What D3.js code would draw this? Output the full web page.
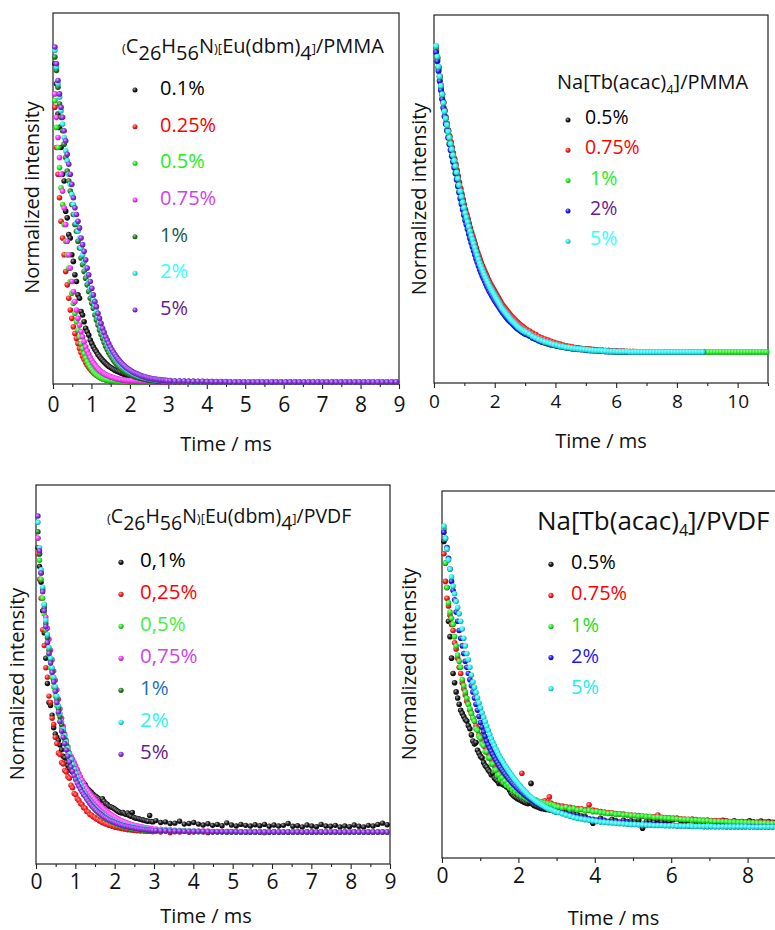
<!DOCTYPE html>
<html>
<head>
<meta charset="utf-8">
<script src="https://cdn.jsdelivr.net/npm/d3@7"></script>
<style>
  body { margin: 0; background: #fff; }
  svg { display: block; font-family: 'Open Sans', sans-serif; }
</style>
</head>
<body>
<svg id="fig" width="775" height="930"></svg>
<script>
// ---------- sampling grids (time, ms) ----------
const gridEu = d3.range(0.05, 2.99, 0.04).concat(d3.range(3.05, 9, 0.12));
const gridTbPmma = d3.range(0.07, 3, 0.04).concat(d3.range(3.05, 11, 0.1));
const gridTbPvdf = d3.range(0.05, 2.99, 0.04).concat(d3.range(3.05, 9, 0.1));

// ---------- axis ticks ----------
const ticksEu = [0, 1, 2, 3, 4, 5, 6, 7, 8, 9];
const minorEu = [0.5, 1.5, 2.5, 3.5, 4.5, 5.5, 6.5, 7.5, 8.5];
const ticksTbPmma = [0, 2, 4, 6, 8, 10];
const minorTbPmma = [1, 3, 5, 7, 9, 11];
const ticksTbPvdf = [0, 2, 4, 6, 8];
const minorTbPvdf = [1, 3, 5, 7, 9];

// ---------- legend labels ----------
const euPmmaLabels = ["0.1%", "0.25%", "0.5%", "0.75%", "1%", "2%", "5%"];
const tbPmmaLabels = ["0.5%", "0.75%", "\u00a01%", "\u00a02%", "\u00a05%"];
const euPvdfLabels = ["0,1%", "0,25%", "0,5%", "0,75%", "1%", "2%", "5%"];
const tbPvdfLabels = ["0.5%", "0.75%", "1%", "2%", "5%"];

// ---------- (C26H56N)[Eu(dbm)4] / PMMA ----------
const euPmma01 = [.95,.89,.80,.76,.70,.62,.60,.51,.49,.44,
  .43,.38,.36,.32,.30,.26,.25,.21,.20,.18,
  .16,.15,.14,.125,.115,.105,.097,.09,.082,.076,
  .07,.065,.06,.055,.051,.047,.044,.041,.038,.035,
  .033,.031,.029,.027,.025,.023,.021,.02,.018,.017,
  .016,.015,.014,.013,.012,.011,.01,.009,.008,.008,
  .007,.007,.006,.006,.005,.005,.005,.004,.004,.004,
  .003,.003,.003,.003,
  .003,.002,.002,.002,.002,.002,.001,.001,.001,.001,
  0,0,0,0,0,0,0,0,0,0, 0,0,0,0,0,0,0,0,0,0,
  0,0,0,0,0,0,0,0,0,0, 0,0,0,0,0,0,0,0,0,0];
const euPmma025 = [.82,.70,.62,.55,.48,.43,.38,.33,.29,.25,
  .215,.19,.165,.145,.13,.115,.10,.088,.077,.067,
  .058,.05,.044,.038,.033,.028,.024,.02,.017,.014,
  .012,.01,.009,.007,.006,.005,.004,.004,.003,.003,
  .003,.002,.002,.002,.002,.002,.001,.001,.001,.001,
  .001,.001,.001,0,0,0,0,0,0,0,
  0,0,0,0,0,0,0,0,0,0,
  0,0,0,0,
  0,0,0,0,0,0,0,0,0,0, 0,0,0,0,0,0,0,0,0,0,
  0,0,0,0,0,0,0,0,0,0, 0,0,0,0,0,0,0,0,0,0,
  0,0,0,0,0,0,0,0,0,0];
const euPmma05 = [.84,.76,.70,.64,.58,.53,.47,.42,.38,.34,
  .30,.265,.235,.205,.18,.155,.135,.115,.10,.085,
  .072,.061,.052,.044,.037,.031,.026,.022,.018,.015,
  .012,.01,.008,.007,.006,.005,.004,.004,.003,.003,
  .002,.002,.002,.002,.001,.001,.001,.001,.001,.001,
  0,0,0,0,0,0,0,0,0,0,
  0,0,0,0,0,0,0,0,0,0,
  0,0,0,0,
  0,0,0,0,0,0,0,0,0,0, 0,0,0,0,0,0,0,0,0,0,
  0,0,0,0,0,0,0,0,0,0, 0,0,0,0,0,0,0,0,0,0,
  0,0,0,0,0,0,0,0,0,0];
const euPmma075 = [.86,.79,.73,.67,.62,.57,.52,.47,.42,.38,
  .34,.30,.27,.24,.215,.19,.17,.15,.135,.12,
  .105,.093,.083,.073,.065,.057,.051,.045,.04,.035,
  .031,.028,.025,.022,.02,.018,.016,.014,.013,.011,
  .01,.009,.008,.007,.007,.006,.005,.005,.004,.004,
  .004,.003,.003,.003,.003,.002,.002,.002,.002,.002,
  .002,.001,.001,.001,.001,.001,.001,.001,.001,.001,
  .001,.001,0,0,
  0,0,0,0,0,0,0,0,0,0, 0,0,0,0,0,0,0,0,0,0,
  0,0,0,0,0,0,0,0,0,0, 0,0,0,0,0,0,0,0,0,0,
  0,0,0,0,0,0,0,0,0,0];
const euPmma1 = [.97,.93,.88,.83,.79,.75,.71,.67,.63,.60,
  .57,.53,.50,.47,.45,.42,.40,.37,.35,.33,
  .31,.29,.27,.25,.235,.22,.20,.185,.17,.155,
  .142,.13,.118,.107,.097,.088,.08,.073,.066,.06,
  .054,.049,.044,.04,.036,.033,.03,.027,.024,.022,
  .02,.018,.016,.014,.013,.012,.011,.01,.009,.008,
  .007,.006,.006,.005,.005,.004,.004,.003,.003,.003,
  .002,.002,.002,.002,
  .002,.001,.001,.001,.001,0,0,0,0,0, 0,0,0,0,0,0,0,0,0,0,
  0,0,0,0,0,0,0,0,0,0, 0,0,0,0,0,0,0,0,0,0,
  0,0,0,0,0,0,0,0,0,0];
const euPmma2 = [.99,.94,.89,.85,.81,.77,.73,.69,.66,.62,
  .59,.56,.53,.50,.475,.45,.43,.40,.38,.36,
  .34,.32,.30,.28,.26,.245,.23,.21,.195,.18,
  .165,.152,.14,.128,.117,.107,.098,.09,.082,.075,
  .069,.063,.057,.052,.048,.044,.04,.036,.033,.03,
  .028,.025,.023,.021,.019,.017,.016,.014,.013,.012,
  .011,.01,.009,.008,.007,.007,.006,.006,.005,.005,
  .004,.004,.004,.003,
  .003,.002,.002,.002,.001,.001,.001,.001,0,0, 0,0,0,0,0,0,0,0,0,0,
  0,0,0,0,0,0,0,0,0,0, 0,0,0,0,0,0,0,0,0,0,
  0,0,0,0,0,0,0,0,0,0];
const euPmma5 = [1.0,.95,.90,.86,.82,.79,.75,.72,.68,.65,
  .62,.59,.55,.52,.50,.48,.46,.43,.41,.39,
  .365,.34,.32,.30,.28,.26,.24,.225,.205,.19,
  .175,.16,.148,.135,.125,.115,.105,.097,.089,.082,
  .075,.069,.063,.058,.053,.049,.045,.041,.038,.035,
  .032,.029,.027,.025,.023,.021,.019,.017,.016,.015,
  .013,.012,.011,.01,.009,.009,.008,.007,.007,.006,
  .006,.005,.005,.004,
  .004,.003,.003,.003,.002,.002,.002,.002,.001,.001,
  .001,.001,.001,0,0,0,0,0,0,0, 0,0,0,0,0,0,0,0,0,0,
  0,0,0,0,0,0,0,0,0,0, 0,0,0,0,0,0,0,0,0,0];

// ---------- Na[Tb(acac)4] / PMMA ----------
const tbPmma05 = [.99,.962,.93,.90,.87,.842,.815,.789,.765,.744,
  .722,.703,.684,.666,.647,.629,.611,.591,.571,.55,
  .53,.512,.494,.477,.46,.446,.431,.416,.401,.387,
  .373,.36,.347,.334,.321,.309,.297,.287,.277,.267,
  .258,.249,.24,.231,.222,.215,.208,.201,.194,.187,
  .18,.173,.166,.159,.152,.146,.141,.136,.131,.126,
  .121,.116,.111,.107,.103,.099,.095,.091,.087,.084,
  .081,.078,.075,.072,
  .068,.063,.056,.051,.046,.042,.038,.034,.031,.028,
  .025,.022,.02,.018,.016,.014,.013,.012,.011,.01,
  .009,.008,.007,.006,.005,.005,.004,.004,.003,.003,
  .002,.002,.002,.001,.001,.001,0,0,0,0,
  0,0,0,0,0,0,0,0,0,0, 0,0,0,0,0,0,0,0,0];
const tbPmma075 = [.99,.96,.93,.90,.87,.843,.816,.79,.767,.746,
  .725,.706,.687,.668,.65,.632,.614,.595,.575,.555,
  .535,.517,.499,.482,.466,.451,.436,.421,.406,.392,
  .379,.366,.353,.34,.327,.315,.303,.292,.282,.272,
  .263,.254,.245,.236,.227,.22,.213,.206,.199,.192,
  .185,.178,.171,.164,.157,.151,.146,.141,.136,.131,
  .126,.121,.116,.112,.108,.104,.10,.096,.092,.089,
  .086,.083,.08,.077,
  .073,.068,.061,.056,.05,.046,.042,.038,.034,.031,
  .028,.025,.022,.02,.018,.016,.014,.012,.011,.01,
  .009,.008,.007,.006,.005,.005,.004,.004,.003,.003,
  .002,.002,.002,.001,.001,.001,.001,0,0,0,
  0,0,0,0,0,0,0,0,0,0, 0,0,0,0,0,0,0,0,0];
const tbPmma1 = [.985,.955,.922,.89,.86,.83,.80,.773,.748,.726,
  .704,.683,.663,.644,.625,.606,.587,.567,.546,.526,
  .506,.488,.47,.452,.436,.421,.406,.391,.376,.362,
  .349,.336,.323,.31,.298,.286,.274,.264,.254,.245,
  .236,.227,.218,.21,.202,.195,.188,.181,.174,.167,
  .161,.155,.149,.143,.137,.131,.126,.121,.116,.111,
  .106,.102,.098,.094,.09,.086,.082,.079,.076,.073,
  .07,.067,.064,.062,
  .059,.054,.048,.043,.039,.035,.031,.028,.025,.023,
  .02,.018,.016,.015,.013,.012,.011,.01,.009,.008,
  .007,.006,.005,.004,.004,.003,.003,.002,.002,.002,
  .001,.001,.001,.001,0,0,0,0,0,0,
  0,0,0,0,0,0,0,0,0,0, 0,0,0,0,0,0,0,0,0,0,
  0,0,0,0,0,0,0,0,0,0, 0,0,0,0,0,0,0,0,0,0];
const tbPmma2 = [.98,.95,.918,.885,.855,.826,.797,.77,.745,.723,
  .70,.679,.659,.64,.621,.602,.583,.563,.542,.521,
  .501,.483,.465,.447,.43,.416,.401,.386,.371,.357,
  .344,.331,.318,.305,.293,.281,.27,.26,.25,.241,
  .232,.223,.214,.206,.198,.191,.184,.177,.17,.164,
  .158,.152,.146,.14,.134,.128,.123,.118,.113,.108,
  .104,.10,.096,.092,.088,.084,.08,.077,.074,.071,
  .068,.065,.063,.06,
  .057,.052,.046,.042,.037,.033,.03,.027,.024,.022,
  .02,.018,.016,.014,.013,.011,.01,.009,.008,.007,
  .006,.005,.005,.004,.003,.003,.002,.002,.002,.001,
  .001,.001,.001,0,0,0,0,0,0,0,
  0,0,0,0,0,0,0,0,0,0, 0,0,0,0,0,0,0,0,0];
const tbPmma5 = [1.0,.965,.932,.90,.87,.842,.814,.787,.763,.742,
  .72,.70,.68,.662,.643,.625,.607,.587,.566,.545,
  .525,.507,.489,.471,.454,.44,.425,.41,.395,.38,
  .367,.354,.341,.328,.315,.302,.29,.28,.27,.26,
  .251,.242,.233,.224,.215,.208,.201,.194,.187,.18,
  .173,.166,.159,.152,.145,.139,.134,.129,.124,.119,
  .114,.109,.104,.10,.096,.092,.088,.084,.08,.077,
  .074,.071,.069,.066,
  .063,.058,.051,.046,.041,.037,.033,.03,.027,.024,
  .022,.019,.017,.015,.014,.012,.011,.01,.009,.008,
  .007,.006,.005,.004,.004,.003,.003,.002,.002,.002,
  .001,.001,.001,.001,0,0,0,0,0,0,
  0,0,0,0,0,0,0,0,0,0, 0,0,0,0,0,0,0,0,0];

// ---------- (C26H56N)[Eu(dbm)4] / PVDF ----------
const euPvdf01 = [.90,.84,.79,.70,.63,.55,.47,.41,.40,.37,
  .33,.31,.30,.29,.275,.26,.24,.235,.22,.21,
  .20,.195,.19,.185,.178,.17,.165,.16,.158,.155,
  .15,.14,.135,.13,.125,.12,.115,.112,.108,.104,
  .10,.105,.097,.09,.088,.082,.08,.078,.075,.072,
  .068,.065,.062,.06,.062,.058,.055,.06,.052,.05,
  .062,.046,.044,.043,.042,.04,.039,.038,.036,.035,
  .034,.052,.033,.032,
  .036,.03,.032,.027,.028,.034,.025,.027,.03,.025,
  .022,.026,.021,.024,.02,.029,.022,.019,.024,.021,
  .019,.023,.02,.024,.018,.022,.019,.021,.027,.018,
  .02,.016,.022,.019,.017,.024,.019,.018,.021,.016,
  .019,.017,.022,.018,.016,.021,.019,.024,.028,.023];
const euPvdf025 = [.88,.80,.74,.64,.59,.52,.49,.43,.41,.36,
  .34,.30,.28,.25,.245,.22,.215,.195,.19,.175,
  .17,.148,.14,.122,.118,.105,.10,.09,.087,.077,
  .075,.065,.063,.055,.054,.048,.047,.041,.04,.035,
  .034,.029,.029,.025,.025,.021,.021,.018,.018,.015,
  .016,.013,.014,.011,.012,.009,.01,.007,.009,.006,
  .008,.005,.007,.004,.006,.003,.005,.003,.004,.002,
  .004,.002,.003,.001,
  .002,0,.003,-.002,.001,0,.002,-.001,0,.001,
  0,-.002,.001,0,.002,-.001,0,.001,0,-.001,
  0,.001,0,-.002,0,.001,0,0,-.001,0,
  .001,0,0,-.001,0,.001,0,0,0,-.001,
  0,0,.001,0,0,0,-.001,0,0,0];
const euPvdf05 = [.93,.86,.80,.74,.69,.64,.60,.56,.52,.49,
  .46,.43,.40,.375,.35,.33,.31,.29,.27,.25,
  .235,.22,.205,.19,.178,.165,.154,.143,.133,.124,
  .115,.107,.099,.092,.085,.079,.073,.068,.063,.058,
  .054,.05,.046,.043,.04,.037,.034,.031,.029,.027,
  .025,.023,.021,.019,.018,.016,.015,.014,.013,.012,
  .011,.01,.009,.009,.008,.007,.007,.006,.006,.005,
  .005,.005,.004,.004,
  .004,.003,.003,.003,.002,.002,.002,.002,.001,.001,
  .001,.001,.001,.001,0,0,0,0,0,0,
  0,0,0,0,0,0,0,0,0,0, 0,0,0,0,0,0,0,0,0,0,
  0,0,0,0,0,0,0,0,0,0];
const euPvdf075 = [.93,.88,.82,.77,.72,.68,.645,.61,.575,.545,
  .51,.48,.45,.42,.39,.36,.335,.31,.29,.27,
  .25,.24,.23,.22,.21,.198,.186,.175,.165,.155,
  .145,.137,.13,.123,.116,.11,.104,.098,.092,.087,
  .082,.077,.072,.068,.064,.06,.056,.053,.05,.047,
  .044,.041,.038,.036,.034,.032,.03,.028,.026,.024,
  .023,.021,.02,.019,.018,.017,.016,.015,.014,.013,
  .012,.012,.011,.01,
  .01,.009,.008,.007,.006,.005,.005,.004,.004,.003,
  .003,.003,.002,.002,.002,.002,.001,.001,.001,.001,
  .001,.001,0,0,0,0,0,0,0,0,
  0,0,0,0,0,0,0,0,0,0, 0,0,0,0,0,0,0,0,0,0];
const euPvdf1 = [.95,.88,.82,.765,.71,.66,.615,.575,.54,.51,
  .48,.45,.42,.39,.365,.34,.318,.297,.277,.258,
  .24,.223,.207,.193,.18,.167,.155,.144,.134,.125,
  .116,.108,.1,.093,.087,.081,.075,.07,.065,.061,
  .057,.053,.049,.046,.043,.04,.037,.035,.033,.031,
  .029,.027,.025,.023,.021,.02,.019,.018,.017,.016,
  .015,.014,.013,.012,.011,.01,.009,.009,.008,.008,
  .007,.007,.006,.006,
  .005,.005,.004,.004,.003,.003,.003,.002,.002,.002,
  .002,.001,.001,.001,.001,0,0,0,0,0,
  0,0,0,0,0,0,0,0,0,0, 0,0,0,0,0,0,0,0,0,0,
  0,0,0,0,0,0,0,0,0,0];
const euPvdf2 = [.98,.90,.83,.775,.72,.67,.625,.585,.55,.52,
  .49,.46,.43,.40,.375,.35,.325,.305,.285,.265,
  .247,.23,.214,.199,.185,.172,.16,.149,.139,.129,
  .12,.112,.104,.097,.091,.085,.079,.074,.069,.065,
  .061,.057,.053,.049,.046,.043,.04,.037,.035,.033,
  .031,.029,.027,.025,.023,.022,.02,.019,.018,.017,
  .016,.015,.014,.013,.012,.011,.01,.01,.009,.009,
  .008,.008,.007,.007,
  .006,.006,.005,.005,.004,.004,.003,.003,.003,.002,
  .002,.002,.002,.001,.001,.001,.001,.001,0,0,
  0,0,0,0,0,0,0,0,0,0, 0,0,0,0,0,0,0,0,0,0,
  0,0,0,0,0,0,0,0,0,0];
const euPvdf5 = [1.0,.89,.82,.76,.70,.65,.60,.565,.535,.505,
  .475,.445,.41,.38,.35,.32,.30,.28,.26,.24,
  .222,.206,.192,.178,.166,.155,.145,.136,.127,.119,
  .113,.105,.098,.091,.085,.079,.074,.069,.064,.06,
  .056,.052,.048,.045,.042,.039,.036,.034,.032,.03,
  .028,.026,.024,.022,.021,.019,.018,.017,.016,.015,
  .014,.013,.012,.011,.01,.009,.009,.008,.008,.007,
  .007,.006,.006,.005,
  .005,.004,.004,.003,.003,.003,.002,.002,.002,.002,
  .002,.001,.001,.001,.001,.001,.001,.001,0,0,
  0,0,0,0,0,0,0,0,0,0, 0,0,0,0,0,0,0,0,0,0,
  0,0,0,0,0,0,0,0,0,0];

// ---------- Na[Tb(acac)4] / PVDF ----------
const tbPvdf05 = [.93,.86,.78,.67,.62,.55,.50,.47,.44,.42,
  .40,.38,.37,.36,.35,.345,.33,.32,.30,.28,
  .27,.275,.25,.24,.23,.225,.21,.20,.195,.186,
  .18,.17,.175,.16,.155,.15,.142,.145,.14,.138,
  .135,.13,.137,.12,.11,.105,.10,.096,.093,.09,
  .088,.085,.082,.08,.078,.076,.08,.142,.074,.07,
  .068,.066,.064,.062,.06,.065,.058,.057,.061,.056,
  .055,.054,.058,.055,
  .052,.05,.047,.045,.042,.04,.036,.033,.025,.012,
  .02,.028,.022,.018,.025,.02,.015,.022,.018,.02,
  .016,.022,-.004,.018,.02,.015,.022,.017,.02,.018,
  .024,.028,.02,.018,.022,.025,.018,.02,.016,.022,
  .018,.02,.015,.022,.019,.017,.02,.016,.018,.015,
  .02,.017,.015,.019,.016,.018,.015,.017,.014,.016];
const tbPvdf075 = [.89,.80,.745,.72,.69,.66,.64,.60,.58,.55,
  .52,.50,.47,.45,.43,.41,.40,.38,.37,.355,
  .345,.33,.32,.30,.295,.28,.275,.26,.25,.24,
  .23,.22,.21,.20,.19,.18,.175,.165,.16,.155,
  .15,.145,.14,.135,.13,.125,.12,.118,.114,.11,
  .108,.175,.10,.098,.095,.092,.09,.088,.086,.084,
  .088,.082,.08,.078,.083,.076,.085,.075,.08,.098,
  .078,.074,.07,.072,
  .07,.068,.066,.064,.062,.06,.059,.057,.072,.055,
  .053,.05,.049,.047,.046,.044,.043,.042,.04,.039,
  .038,.037,.036,.035,.034,.033,.039,.032,.031,.03,
  .029,.028,.027,.026,.025,.025,.024,.023,.023,.022,
  .021,.021,.02,.019,.019,.018,.018,.017,.017,.016,
  .016,.015,.015,.015,.014,.014,.013,.013,.013,.012];
const tbPvdf1 = [.97,.86,.78,.73,.70,.68,.66,.62,.59,.56,
  .54,.52,.48,.46,.44,.42,.40,.385,.37,.355,
  .345,.32,.315,.295,.29,.27,.265,.245,.245,.225,
  .225,.205,.205,.185,.185,.168,.17,.155,.16,.145,
  .15,.135,.14,.128,.132,.12,.124,.113,.118,.106,
  .11,.10,.104,.095,.099,.09,.095,.087,.09,.083,
  .087,.08,.084,.078,.081,.075,.078,.073,.076,.07,
  .073,.068,.071,.066,
  .065,.062,.064,.058,.06,.055,.057,.052,.054,.05,
  .05,.047,.046,.044,.045,.041,.042,.039,.04,.037,
  .037,.035,.036,.033,.034,.031,.032,.03,.029,.028,
  .027,.026,.025,.024,.024,.022,.022,.021,.02,.02,
  .019,.018,.018,.017,.017,.016,.016,.015,.015,.014,
  .014,.014,.013,.013,.013,.012,.012,.012,.011,.011];
const tbPvdf2 = [.96,.94,.91,.875,.84,.80,.77,.74,.70,.67,
  .64,.615,.59,.565,.54,.52,.50,.48,.46,.44,
  .42,.40,.38,.36,.34,.325,.31,.295,.28,.268,
  .257,.247,.237,.228,.219,.21,.202,.194,.187,.18,
  .173,.166,.16,.154,.148,.142,.137,.132,.127,.122,
  .117,.113,.108,.104,.10,.096,.093,.089,.086,.083,
  .08,.077,.074,.071,.069,.066,.064,.062,.06,.058,
  .056,.054,.052,.05,
  .048,.045,.042,.039,.036,.033,.031,.029,.027,.025,
  .023,.021,.02,.018,.017,.016,.015,.014,.013,.012,
  .011,.01,.009,.009,.008,.007,.007,.006,.006,.005,
  .005,.004,.004,.004,.003,.003,.003,.003,.002,.002,
  .002,.002,.002,.002,.001,.001,.001,.001,.001,.001,
  .001,.001,0,0,0,0,0,0,0,0];
const tbPvdf5 = [.98,.94,.905,.87,.84,.815,.785,.76,.735,.715,
  .695,.67,.645,.615,.59,.565,.545,.52,.495,.472,
  .455,.438,.421,.404,.388,.372,.357,.343,.329,.315,
  .301,.288,.276,.265,.254,.244,.234,.225,.217,.209,
  .20,.193,.185,.178,.171,.164,.157,.151,.145,.139,
  .133,.127,.121,.116,.111,.106,.101,.097,.093,.089,
  .085,.081,.078,.075,.072,.069,.066,.063,.06,.058,
  .056,.054,.052,.05,
  .047,.043,.039,.035,.031,.028,.026,.024,.022,.02,
  .018,.016,.015,.014,.013,.012,.011,.01,.009,.008,
  .008,.007,.007,.006,.006,.005,.005,.005,.004,.004,
  .004,.003,.003,.003,.003,.002,.002,.002,.002,.002,
  .002,.001,.001,.001,.001,.001,.001,.001,.001,.001,
  0,0,0,0,0,0,0,0,0,0];

// ---------- colours ----------
const C = {
  black: "#151515", red: "#ff1a1a", green: "#22ee22", magenta: "#ff33ff",
  dkgreen: "#1e7d1e", cyan: "#2af0f0", violet: "#8a2be2", blue: "#1a1aee"
};

const panels = [
  {
    frame: { left: 53, right: 399, top: 13, bottom: 384 }, xMax: 9, yZero: 382, yOne: 47,
    majors: ticksEu, minors: minorEu, tickFont: 21, tickOffset: 28,
    xTitle: [226, 451], yTitle: [31.7, 197.5], r: 2.8, times: gridEu,
    title: { x: 122, y: 53, n: 20, s: 20, b: 13, shift: 7,
      parts: [["(", "b"], ["C", "n"], ["26", "s"], ["H", "n"], ["56", "s"], ["N", "n"], [")", "b"], ["[", "b"],
              ["Eu(dbm)", "n"], ["4", "s"], ["]", "b"], ["/PMMA", "n"]] },
    legend: { mx: 135, my: 90, tx: 160, ty: 95, step: 36.67, size: 20, r: 2.5 },
    labels: euPmmaLabels,
    series: [
      [euPmma01, C.black, "#000000"], [euPmma025, C.red, "#ff0000"], [euPmma05, C.green, "#22ee22"],
      [euPmma075, C.magenta, "#cc44ee"], [euPmma1, C.dkgreen, "#17594a"], [euPmma2, C.cyan, "#33ffff"],
      [euPmma5, C.violet, "#6a1a8a"]
    ]
  },
  {
    frame: { left: 434, right: 768, top: 15, bottom: 383 }, xMax: 11, yZero: 352, yOne: 46,
    majors: ticksTbPmma, minors: minorTbPmma, tickFont: 19, tickOffset: 25,
    xTitle: [601, 448], yTitle: [418.3, 199], r: 3, times: gridTbPmma,
    title: { x: 557, y: 89, n: 20, s: 13, b: 20, shift: 5,
      parts: [["Na[Tb(acac)", "n"], ["4", "s"], ["]/PMMA", "n"]] },
    legend: { mx: 568, my: 120, tx: 585, ty: 124, step: 30.3, size: 19.5, r: 2.5 },
    labels: tbPmmaLabels,
    series: [
      [tbPmma05, C.black, "#000000"], [tbPmma075, C.red, "#ff0000"], [tbPmma1, C.green, "#22ee22"],
      [tbPmma2, C.blue, "#6a1a8a"], [tbPmma5, C.cyan, "#33ffff"]
    ]
  },
  {
    frame: { left: 36, right: 390, top: 485, bottom: 864 }, xMax: 9, yZero: 832, yOne: 516,
    majors: ticksEu, minors: minorEu, tickFont: 21, tickOffset: 25,
    xTitle: [206, 922.5], yTitle: [16.7, 684], r: 2.7, times: gridEu,
    title: { x: 107, y: 523, n: 19.5, s: 19.5, b: 13, shift: 7,
      parts: [["(", "b"], ["C", "n"], ["26", "s"], ["H", "n"], ["56", "s"], ["N", "n"], [")", "b"], ["[", "b"],
              ["Eu(dbm)", "n"], ["4", "s"], ["]", "b"], ["/PVDF", "n"]] },
    legend: { mx: 121, my: 562.3, tx: 140, ty: 566.7, step: 32, size: 20.5, r: 2.6 },
    labels: euPvdfLabels,
    series: [
      [euPvdf01, C.black, "#000000"], [euPvdf025, C.red, "#ff0000"], [euPvdf05, C.green, "#44ee44"],
      [euPvdf075, C.magenta, "#cc44ee"], [euPvdf1, C.dkgreen, "#1f6fb0"], [euPvdf2, C.cyan, "#33eeee"],
      [euPvdf5, C.violet, "#6a1a8a"]
    ]
  },
  {
    frame: { left: 442, right: 442 + 9 * 38.2, top: 491, bottom: 858 }, xMax: 9, yZero: 827, yOne: 520,
    majors: ticksTbPvdf, minors: minorTbPvdf, tickFont: 21, tickOffset: 25,
    xTitle: [613.5, 925], yTitle: [408.3, 664], r: 2.8, times: gridTbPvdf,
    title: { x: 537, y: 530, n: 26, s: 16, b: 26, shift: 6,
      parts: [["Na[Tb(acac)", "n"], ["4", "s"], ["]/PVDF", "n"]] },
    legend: { mx: 551, my: 564.3, tx: 571, ty: 569.3, step: 31.1, size: 20, r: 2.6 },
    labels: tbPvdfLabels,
    series: [
      [tbPvdf05, C.black, "#000000"], [tbPvdf075, C.red, "#ff0000"], [tbPvdf1, C.green, "#22dd22"],
      [tbPvdf2, C.blue, "#1a1aee"], [tbPvdf5, C.cyan, "#22eeee"]
    ]
  }
];

const svg = d3.select("#fig");
svg.append("rect").attr("width", 775).attr("height", 930).attr("fill", "#fff");
const defs = svg.append("defs");

// shaded bead fill per colour
const beadIds = new Map();
function bead(color) {
  if (!beadIds.has(color)) {
    const id = "bead" + beadIds.size;
    const g = defs.append("radialGradient").attr("id", id)
      .attr("cx", "38%").attr("cy", "35%").attr("r", "65%");
    g.append("stop").attr("offset", "0%").attr("stop-color", d3.interpolateRgb(color, "#ffffff")(0.6));
    g.append("stop").attr("offset", "55%").attr("stop-color", color);
    g.append("stop").attr("offset", "100%").attr("stop-color", d3.interpolateRgb(color, "#000000")(0.35));
    beadIds.set(color, id);
  }
  return `url(#${beadIds.get(color)})`;
}

panels.forEach(p => {
  const g = svg.append("g");
  const f = p.frame;
  const x = d3.scaleLinear().domain([0, p.xMax]).range([f.left, f.right]);
  const y = d3.scaleLinear().domain([0, 1]).range([p.yZero, p.yOne]);

  // frame
  g.append("rect").attr("x", f.left).attr("y", f.top)
    .attr("width", f.right - f.left).attr("height", f.bottom - f.top)
    .attr("fill", "none").attr("stroke", "#222").attr("stroke-width", 1.2);

  // x axis: minor then major ticks
  const minorAxis = g.append("g").attr("transform", `translate(0,${f.bottom})`)
    .call(d3.axisBottom(x).tickValues(p.minors).tickSize(3).tickFormat(""));
  const majorAxis = g.append("g").attr("transform", `translate(0,${f.bottom})`)
    .call(d3.axisBottom(x).tickValues(p.majors).tickSize(5).tickFormat(d3.format("d")));
  [minorAxis, majorAxis].forEach(a => {
    a.select(".domain").remove();
    a.selectAll("line").attr("stroke", "#222").attr("stroke-width", 1.1);
    a.attr("font-family", null).attr("font-size", null);
  });
  majorAxis.selectAll("text")
    .attr("y", p.tickOffset).attr("dy", null)
    .attr("fill", "#111").style("font-size", p.tickFont + "px")
    .style("font-family", "'Open Sans', sans-serif");

  // axis titles
  g.append("text").attr("x", p.xTitle[0]).attr("y", p.xTitle[1])
    .attr("text-anchor", "middle").attr("fill", "#111").style("font-size", "20px")
    .text("Time / ms");
  g.append("text")
    .attr("transform", `translate(${p.yTitle[0]},${p.yTitle[1]}) rotate(-90)`)
    .attr("text-anchor", "middle").attr("dominant-baseline", "central")
    .attr("fill", "#111").style("font-size", "20px")
    .text("Normalized intensity");

  // decay curves
  p.series.forEach(([values, dot]) => {
    const pts = values.map((v, i) => [p.times[i], v]).filter(d => d[0] !== undefined);
    g.append("g").selectAll("circle").data(pts).join("circle")
      .attr("cx", d => x(d[0])).attr("cy", d => y(d[1]))
      .attr("r", p.r).attr("fill", bead(dot));
  });

  // legend title with subscript parts
  const t = p.title;
  const tt = g.append("text").attr("x", t.x).attr("y", t.y).attr("fill", "#111");
  let off = 0;
  t.parts.forEach(([s, role]) => {
    const target = role === "s" ? t.shift : 0;
    tt.append("tspan").attr("dy", target - off)
      .style("font-size", (role === "s" ? t.s : role === "b" ? t.b : t.n) + "px")
      .text(s);
    off = target;
  });

  // legend entries
  const L = p.legend;
  p.series.forEach(([, dot, textColor], i) => {
    g.append("circle").attr("cx", L.mx).attr("cy", L.my + i * L.step)
      .attr("r", L.r).attr("fill", bead(dot));
    g.append("text").attr("x", L.tx).attr("y", L.ty + i * L.step)
      .attr("fill", textColor).style("font-size", L.size + "px")
      .text(p.labels[i]);
  });
});
</script>
</body>
</html>
